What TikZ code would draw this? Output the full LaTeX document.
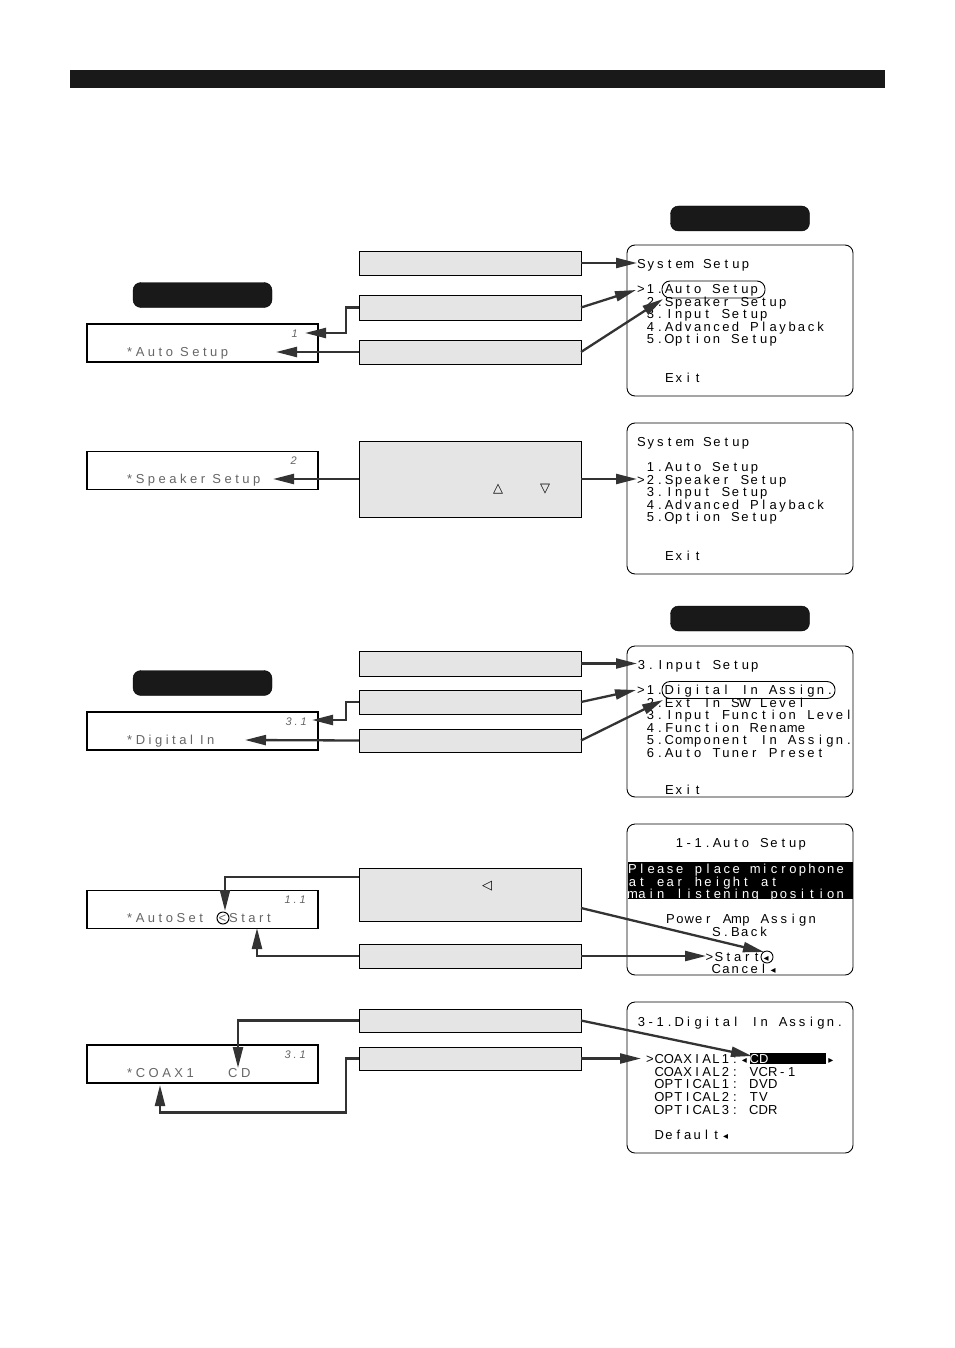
\documentclass[tikz,border=0pt]{standalone}
\usepackage{fontspec}
\setmainfont{Liberation Sans}
\newfontfamily\lcdfont[LetterSpace=27]{Liberation Sans}
\newfontfamily\dvfont{DejaVu Sans}
\usetikzlibrary{arrows.meta,calc}
\newlength\osdw
\setlength\osdw{9.45pt}
\makeatletter
\def\osd@end{\osd@end}
\def\osdcells#1{\osd@go#1\osd@end}
\def\osd@go#1{\ifx#1\osd@end\else\makebox[\osdw][c]{#1}\expandafter\osd@go\fi}
\makeatother
\def\ltri{{\dvfont\fontsize{10}{10}\selectfont ◂}}
\def\rtri{{\dvfont\fontsize{10}{10}\selectfont ▸}}
\begin{document}
\begin{tikzpicture}[x=1pt,y=-1pt,
  gbox/.style={draw=black, line width=0.9pt, fill=black!10, minimum width=222pt, inner sep=0pt, outer sep=0pt},
  scr/.style={draw=black, line width=0.9pt, rounded corners=8pt, minimum width=226pt, minimum height=151pt, inner sep=0pt, outer sep=0pt},
  disp/.style={draw=black, line width=1.4pt, minimum width=231pt, minimum height=38pt, inner sep=0pt, outer sep=0pt},
  pill/.style={fill=black!90, draw=black, rounded corners=8pt, minimum width=139pt, minimum height=25pt, inner sep=0pt},
  otxt/.style={anchor=base west, inner sep=0pt, font=\fontsize{13}{13}\selectfont},
  wtxt/.style={otxt, text=white},
  ltxt/.style={anchor=base west, inner sep=0pt, text=black!60, font=\lcdfont\fontsize{13}{13}\selectfont},
  lnum/.style={anchor=base east, inner sep=0pt, text=black!60, font=\lcdfont\itshape\fontsize{11}{11}\selectfont},
  arr/.style={draw=black!80, line width=2.3pt, -{Triangle[length=21pt,width=10pt]}},
  sel/.style={draw=black, line width=0.9pt, rounded corners=8pt, inner sep=0pt, minimum height=17pt},
  sym/.style={inner sep=0pt, font=\dvfont\fontsize{13}{13}\selectfont}]
\fill[white] (0,0) rectangle (954,1348);
\useasboundingbox (0,0) rectangle (954,1348);

% top bar
\node[fill=black!90, minimum width=815pt, minimum height=18pt, inner sep=0pt] (bar) at (477.5,79) {};

% pills
\node[pill] (p1) at (740,218.5) {};
\node[pill] (p2) at (202.5,295) {};
\node[pill] (p3) at (740,618.5) {};
\node[pill] (p4) at (202.5,683) {};

% gray boxes
\node[gbox, minimum height=24pt] (A) at (470,263) {};
\node[gbox, minimum height=25pt] (B) at (470,307.5) {};
\node[gbox, minimum height=24pt] (C) at (470,352) {};
\node[gbox, minimum height=76pt] (D) at (470,479) {};
\node[gbox, minimum height=25pt] (E) at (470,663.5) {};
\node[gbox, minimum height=24pt] (F) at (470,702) {};
\node[gbox, minimum height=23pt] (G) at (470,740.5) {};
\node[gbox, minimum height=53pt] (H) at (470,894.5) {};
\node[gbox, minimum height=24pt] (I) at (470,956) {};
\node[gbox, minimum height=23pt] (J) at (470,1020.5) {};
\node[gbox, minimum height=23pt] (K) at (470,1058.5) {};

\node[sym] (up) at (498,489) {△};
\node[sym] (dn) at (545,489) {▽};
\node[sym] (lt) at (487,886) {◁};

% displays
\node[disp] (d1) at (202.5,343) {};
\node[disp] (d2) at (202.5,470.5) {};
\node[disp] (d3) at (202.5,731) {};
\node[disp] (d4) at (202.5,909.5) {};
\node[disp] (d5) at (202.5,1064) {};

\node[lnum] (n1) at (298,337) {1};
\node[ltxt] (l1) at (127,356.5) {*Auto Setup};
\node[lnum] (n2) at (297,464) {2};
\node[ltxt] (l2) at (127,483.5) {*Speaker Setup};
\node[lnum] (n3) at (307,725) {3.1};
\node[ltxt] (l3) at (127,744.5) {*Digital In};
\node[lnum] (n4) at (306,903) {1.1};
\node[ltxt] (l4a) at (127,922.5) {*AutoSet};
\node[ltxt] (l4b) at (218.5,922.5) {<};
\node[ltxt] (l4c) at (229,922.5) {Start};
\node[draw=black, line width=1pt, circle, minimum size=12pt, inner sep=0pt] (c4) at (223,918) {};
\node[lnum] (n5) at (306,1058) {3.1};
\node[ltxt] (l5a) at (127,1077.5) {*COAX1};
\node[ltxt] (l5b) at (228,1077.5) {CD};

% screen 1
\node[scr] (S1) at (740,320.5) {};
\node[otxt] (s1a) at (636.5,268.5) {\osdcells{System~Setup}};
\node[otxt] (s1b) at (636,293.5) {\osdcells{>1.Auto~Setup}};
\node[otxt] (s1c) at (645.5,306) {\osdcells{2.Speaker~Setup}};
\node[otxt] (s1d) at (645.5,318.5) {\osdcells{3.Input~Setup}};
\node[otxt] (s1e) at (645.5,331) {\osdcells{4.Advanced~Playback}};
\node[otxt] (s1f) at (645.5,343.5) {\osdcells{5.Option~Setup}};
\node[otxt] (s1g) at (664.5,382) {\osdcells{Exit}};
\node[sel, minimum width=103pt] (o1) at (713.5,289.5) {};

% screen 2
\node[scr] (S2) at (740,498.5) {};
\node[otxt] (s2a) at (636.5,446.5) {\osdcells{System~Setup}};
\node[otxt] (s2b) at (645.5,471.5) {\osdcells{1.Auto~Setup}};
\node[otxt] (s2c) at (636,484) {\osdcells{>2.Speaker~Setup}};
\node[otxt] (s2d) at (645.5,496.5) {\osdcells{3.Input~Setup}};
\node[otxt] (s2e) at (645.5,509) {\osdcells{4.Advanced~Playback}};
\node[otxt] (s2f) at (645.5,521.5) {\osdcells{5.Option~Setup}};
\node[otxt] (s2g) at (664.5,560) {\osdcells{Exit}};

% screen 3
\node[scr] (S3) at (740,721.5) {};
\node[otxt] (s3a) at (636.5,669.5) {\osdcells{3.Input~Setup}};
\node[otxt] (s3b) at (636,694.5) {\osdcells{>1.Digital~In~Assign.}};
\node[otxt] (s3c) at (645.5,707) {\osdcells{2.Ext~In~SW~Level}};
\node[otxt] (s3d) at (645.5,719.5) {\osdcells{3.Input~Function~Level}};
\node[otxt] (s3e) at (645.5,732) {\osdcells{4.Function~Rename}};
\node[otxt] (s3f) at (645.5,744.5) {\osdcells{5.Component~In~Assign.}};
\node[otxt] (s3g) at (645.5,757) {\osdcells{6.Auto~Tuner~Preset}};
\node[otxt] (s3h) at (664.5,794) {\osdcells{Exit}};
\node[sel, minimum width=173pt] (o3) at (748.5,690) {};

% screen 4
\node[fill=black, minimum width=225pt, minimum height=37pt, inner sep=0pt] (band) at (740,880.5) {};
\node[scr] (S4) at (740,899.5) {};
\node[otxt] (s4a) at (674.5,847.5) {\osdcells{1-1.Auto~Setup}};
\node[wtxt] (s4b) at (627.5,873.5) {\osdcells{Please~place~microphone}};
\node[wtxt] (s4c) at (627.5,886) {\osdcells{at~ear~height~at}};
\node[wtxt] (s4d) at (627.5,898) {\osdcells{main~listening~position}};
\node[otxt] (s4e) at (665.5,923.5) {\osdcells{Power~Amp~Assign}};
\node[otxt] (s4f) at (711.5,936) {\osdcells{S.Back}};
\node[otxt] (s4g) at (704.5,961) {\osdcells{>Start\ltri}};
\node[otxt] (s4h) at (711.5,973.5) {\osdcells{Cancel\ltri}};
\node[draw=black, line width=0.9pt, circle, minimum size=12pt, inner sep=0pt] (c5) at (767,957) {};

% screen 5
\node[scr] (S5) at (740,1077.5) {};
\node[otxt] (s5a) at (636.5,1026.5) {\osdcells{3-1.Digital~In~Assign.}};
\node[fill=black, minimum width=76pt, minimum height=11pt, inner sep=0pt] (hl) at (788,1058.5) {};
\node[otxt] (s5b) at (645,1063) {\osdcells{>COAXIAL1:\ltri}};
\node[wtxt] (s5c) at (749.5,1063) {\osdcells{CD}};
\node[otxt] (s5d) at (826,1063) {\osdcells{\rtri}};
\node[otxt] (s5e) at (654.5,1076) {\osdcells{COAXIAL2:~VCR-1}};
\node[otxt] (s5f) at (654.5,1088.5) {\osdcells{OPTICAL1:~DVD}};
\node[otxt] (s5g) at (654.5,1101) {\osdcells{OPTICAL2:~TV}};
\node[otxt] (s5h) at (654.5,1114) {\osdcells{OPTICAL3:~CDR}};
\node[otxt] (s5i) at (654.5,1139.5) {\osdcells{Default\ltri}};

% target coordinates
\coordinate (t1) at (637,263);
\coordinate (t2) at (636,290);
\coordinate (t3) at (663,299);
\coordinate (t4) at (305,333);
\coordinate (t5) at (276,352);
\coordinate (t6) at (637,479);
\coordinate (t7) at (273,479);
\coordinate (t8) at (637,663.5);
\coordinate (t9) at (636,690);
\coordinate (t10) at (663,700);
\coordinate (t11) at (312,720);
\coordinate (t12) at (245,740);
\coordinate (t13) at (225,911);
\coordinate (t14) at (764,952);
\coordinate (t15) at (257,928);
\coordinate (t16) at (706,956);
\coordinate (t17) at (238,1068);
\coordinate (t18) at (752,1056);
\coordinate (t19) at (160,1085);
\coordinate (t20) at (641,1058.5);

% connectors
\draw[arr] (A.east) -- (t1);
\draw[arr] (B.east) -- (t2);
\draw[arr] (C.east) -- (t3);
\draw[arr] (B.west) -- ++(-13,0) |- (t4);
\draw[arr] (C.west) -- (t5);
\draw[arr] (D.east) -- (t6);
\draw[arr] (D.west) -- (t7);
\draw[arr] (E.east) -- (t8);
\draw[arr] (F.east) -- (t9);
\draw[arr] (G.east) -- (t10);
\draw[arr] (F.west) -- ++(-13,0) |- (t11);
\draw[arr] (G.west) -- (t12);
\draw[arr] ($(H.north west)+(0,9)$) -| (t13);
\draw[arr] ($(H.south east)+(0,-13)$) -- (t14);
\draw[arr] (I.west) -| (t15);
\draw[arr] (I.east) -- (t16);
\draw[arr] (J.west) -| (t17);
\draw[arr] (J.east) -- (t18);
\draw[arr] (K.west) -- ++(-13,0) -- ++(0,54) -| (t19);
\draw[arr] (K.east) -- (t20);
\end{tikzpicture}
\end{document}
